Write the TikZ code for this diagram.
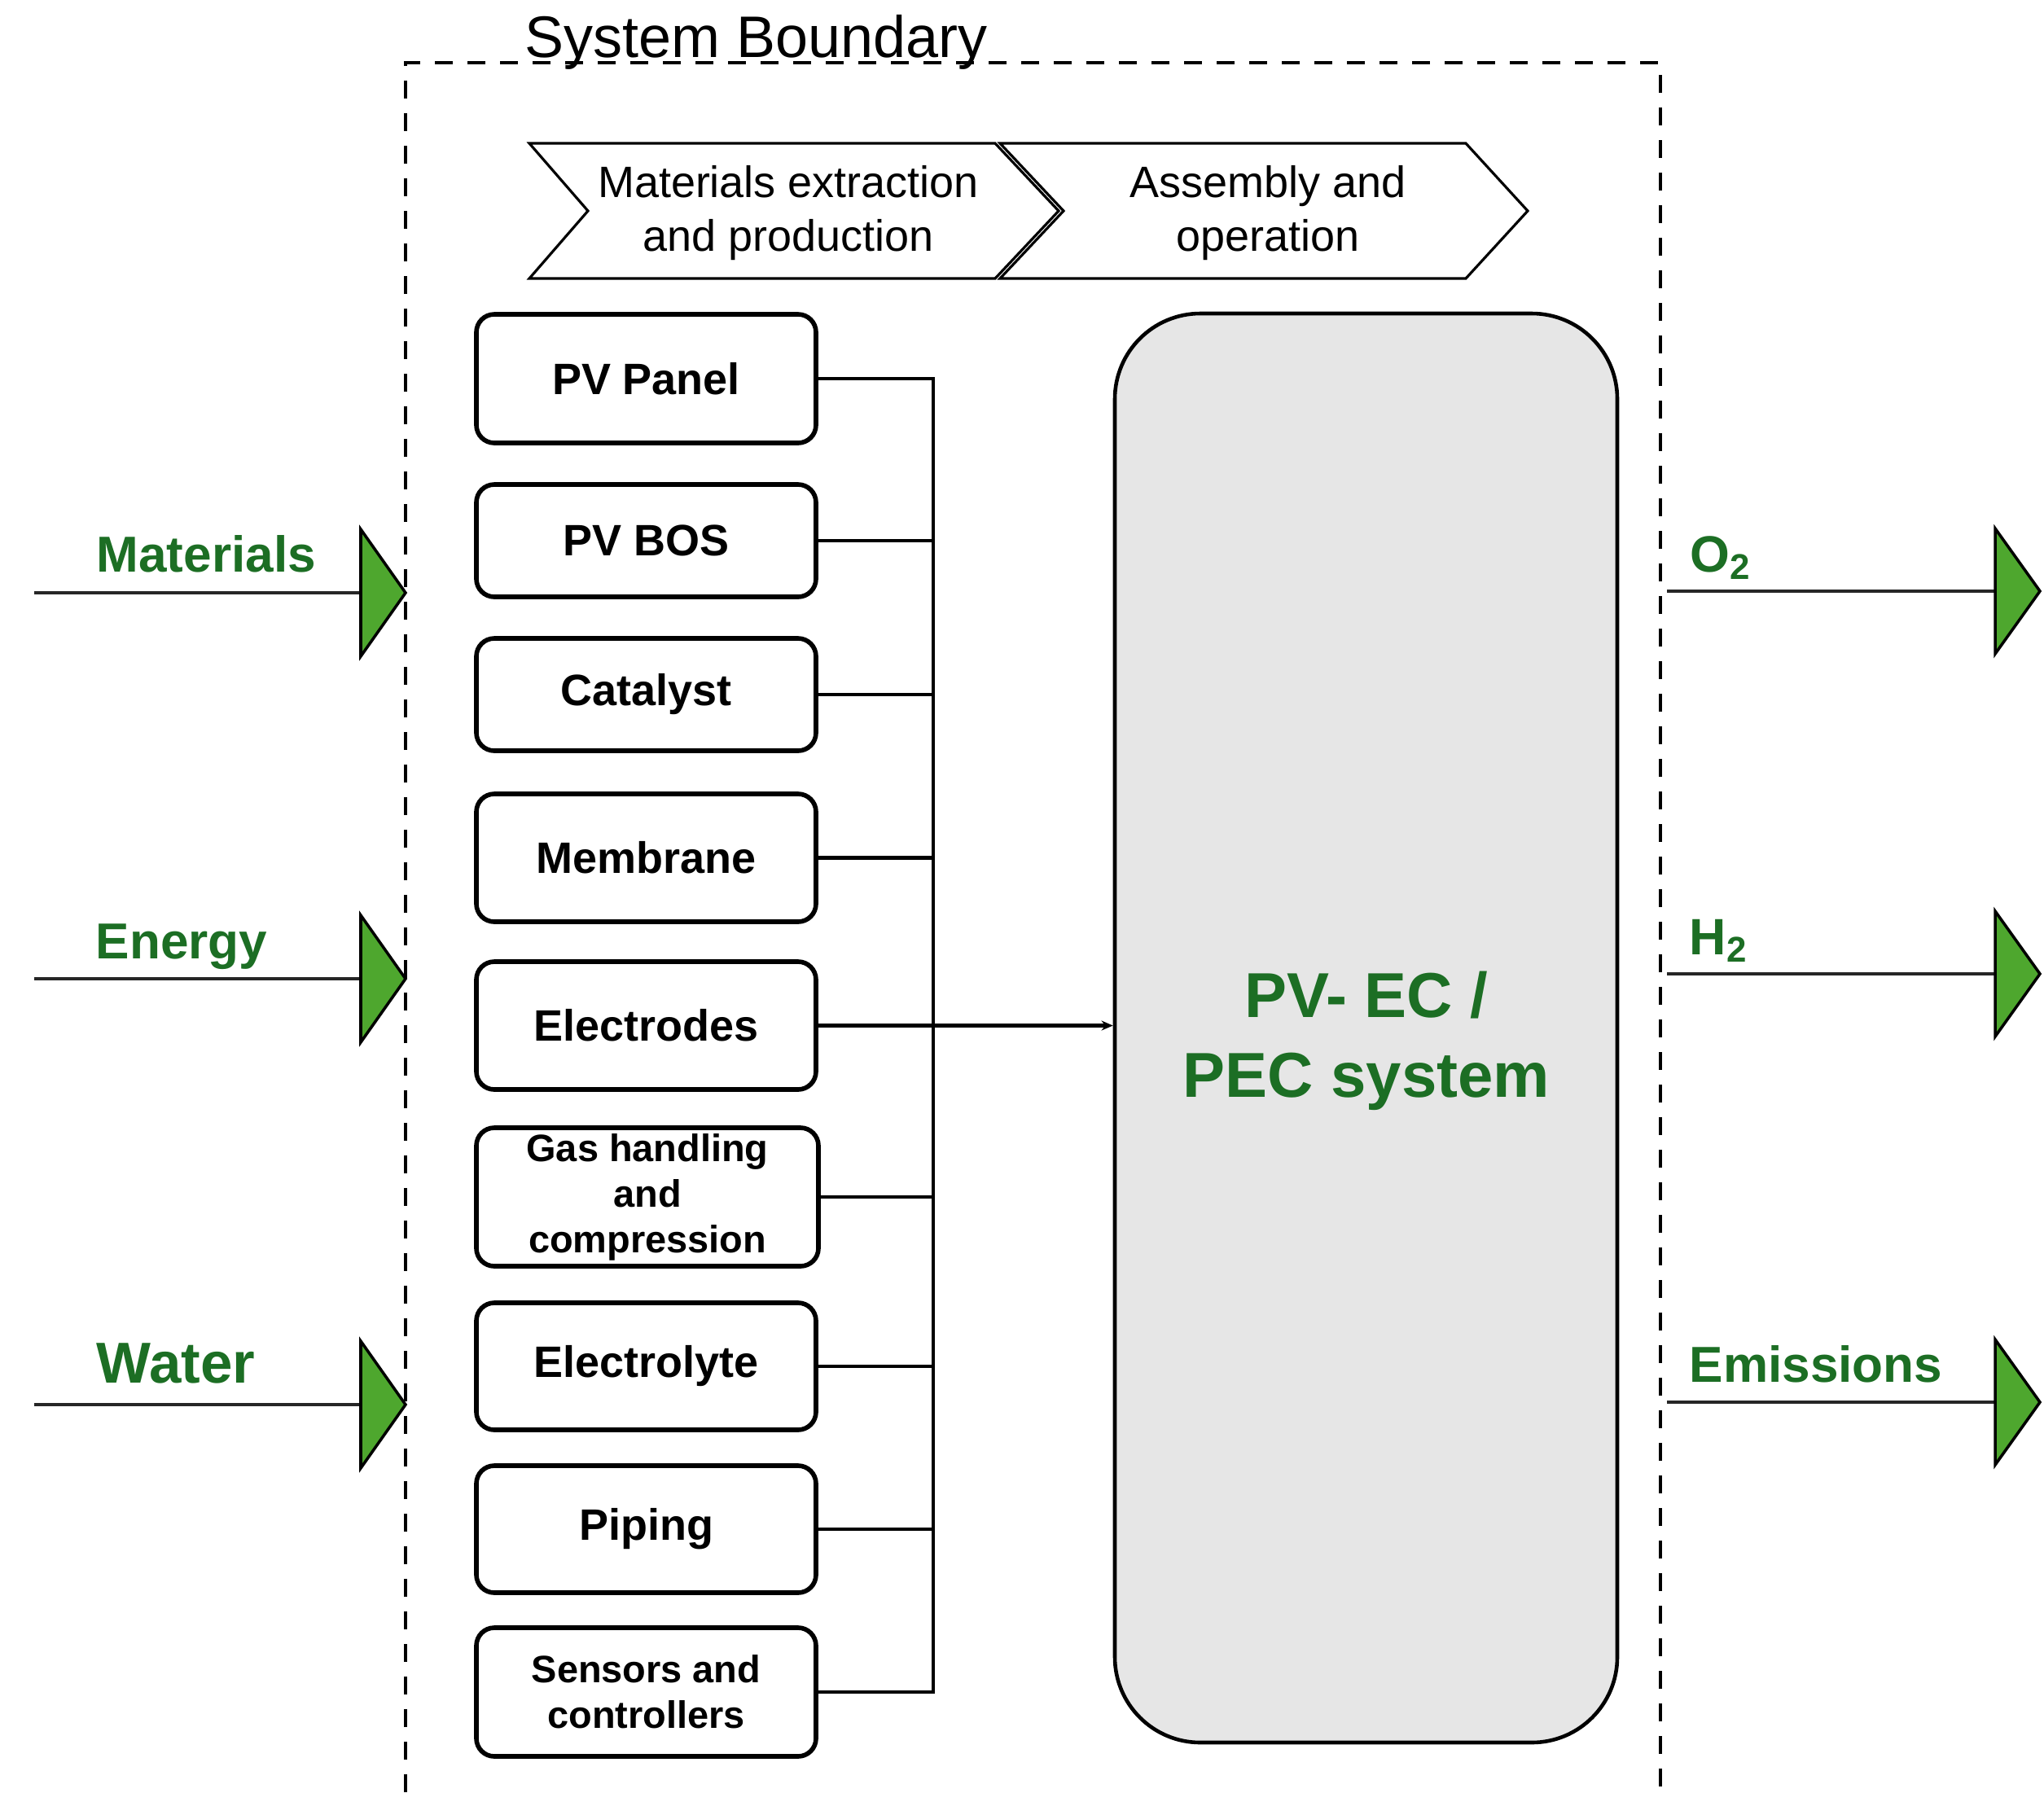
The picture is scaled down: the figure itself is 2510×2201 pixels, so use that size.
\documentclass[tikz,border=0pt]{standalone}
\usepackage{fontspec}
\setmainfont{Liberation Sans}
\usetikzlibrary{arrows.meta,calc}
\newdimen\pu \pu=0.2835pt
\definecolor{tgreen}{HTML}{1C6E24}
\definecolor{agreen}{HTML}{4EA72E}
\definecolor{bgray}{HTML}{E6E6E6}
\begin{document}
\begin{tikzpicture}[x=0.2835pt,y=-0.2835pt,
  comp/.style={draw, line width=1.6pt, rounded corners=22\pu, minimum width=417\pu, inner sep=0pt, align=center, font=\fontsize{15.3}{18.4}\selectfont\bfseries},
  smalltext/.style={font=\fontsize{13.3}{15.9}\selectfont\bfseries},
  conn/.style={line width=1.2pt},
  flow/.style={line width=1.1pt, draw=black!85},
  tri/.style={draw=black, fill=agreen, line width=1pt, line join=miter},
  flab/.style={text=tgreen, font=\fontsize{17.6}{20}\selectfont\bfseries, anchor=base west, inner sep=0pt},
  chev/.style={draw, line width=0.9pt, line join=miter},
  chevtext/.style={align=center, font=\fontsize{15.3}{18.7}\selectfont, inner sep=0pt}
]
\useasboundingbox (0,0) rectangle (2510,2201);
% system boundary
\draw[line width=1.3pt, dash pattern=on 22\pu off 18\pu] (498,2201) -- (498,77) -- (2039,77) -- (2039,2201);
\node[anchor=base west, inner sep=0pt, font=\fontsize{20.4}{24}\selectfont] (sb) at (644,70) {System Boundary};
% chevrons
\draw[chev] (650,176) -- (1222,176) -- (1300,259) -- (1222,342) -- (650,342) -- (722,259) -- cycle;
\draw[chev] (1228,176) -- (1800,176) -- (1876,259) -- (1800,342) -- (1228,342) -- (1306,259) -- cycle;
\node[chevtext] (ch1) at (968,262) {Materials extraction\\and production};
\node[chevtext] (ch2) at (1557,262) {Assembly and\\operation};
% component boxes
\node[comp, minimum height=158\pu] (pvp) at (793.5,465) {PV Panel};
\node[comp, minimum height=138\pu] (bos) at (793.5,664) {PV BOS};
\node[comp, minimum height=138\pu] (cat) at (793.5,853) {Catalyst};
\node[comp, minimum height=157\pu] (mem) at (793.5,1053.5) {Membrane};
\node[comp, minimum height=157\pu] (ele) at (793.5,1259.5) {Electrodes};
\node[comp, smalltext, minimum height=170\pu, minimum width=420\pu] (gas) at (795,1470) {Gas handling\\and\\compression};
\node[comp, minimum height=156\pu] (lyte) at (793.5,1678) {Electrolyte};
\node[comp, minimum height=156\pu] (pip) at (793.5,1878) {Piping};
\node[comp, smalltext, minimum height=158\pu] (sen) at (793.5,2078) {Sensors and\\controllers};
% big box
\node[draw, fill=bgray, line width=1.3pt, rounded corners=105\pu, minimum width=617\pu, minimum height=1755\pu, inner sep=0pt] (pec) at (1677.5,1262.5) {};
\node[text=tgreen, align=center, inner sep=0pt, font=\fontsize{22.1}{27.8}\selectfont\bfseries] (pect) at (1678,1278) {PV- EC /\\PEC system};
% bus connectors
\coordinate (bus) at (1146,465);
\draw[conn] (pvp.east) -| (sen.east -| bus) -- (sen.east);
\foreach \n in {bos,cat,mem,ele,gas,lyte,pip}
  \draw[conn] (\n.east) -- (\n.east -| bus);
\draw[conn, -{Stealth[length=4pt, width=3.4pt]}] (ele.east) -- (ele.east -| pec.west);
% inputs
\foreach \nm/\yy in {inM/728, inE/1202, inW/1725}{
  \coordinate (\nm a) at (42,\yy);
  \coordinate (\nm b) at (443,\yy);
  \draw[flow] (\nm a) -- (\nm b);
  \draw[tri] (\nm b) ++(0,-78) -- ++(55,78) -- ++(-55,78) -- cycle;
}
\node[flab] (lm) at (118,702) {Materials};
\node[flab] (le) at (117,1177) {Energy};
\node[flab, font=\fontsize{20.1}{23}\selectfont\bfseries] (lw) at (118,1698) {Water};
% outputs
\foreach \nm/\yy in {outO/726, outH/1196, outE/1722}{
  \coordinate (\nm a) at (2047,\yy);
  \coordinate (\nm b) at (2450,\yy);
  \draw[flow] (\nm a) -- (\nm b);
  \draw[tri] (\nm b) ++(0,-77) -- ++(55,77) -- ++(-55,77) -- cycle;
}
\node[flab, font=\fontsize{17.8}{20}\selectfont\bfseries] (lo) at (2075,702) {O\textsubscript{2}};
\node[flab, font=\fontsize{17.8}{20}\selectfont\bfseries] (lh) at (2074,1172) {H\textsubscript{2}};
\node[flab] (lem) at (2074,1697) {Emissions};
\end{tikzpicture}
\end{document}
